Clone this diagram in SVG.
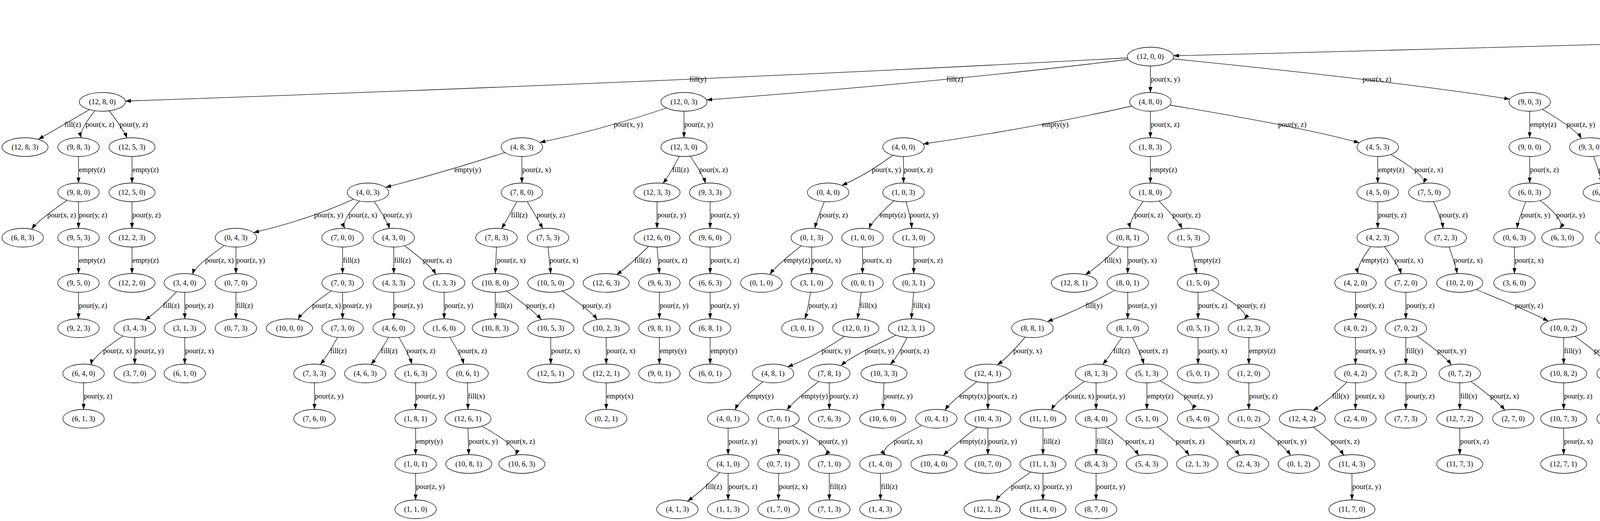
<svg xmlns="http://www.w3.org/2000/svg" width="7758" height="1335" viewBox="0 0 7758 1335">
<defs>
<marker id="arr" markerUnits="userSpaceOnUse" markerWidth="14" markerHeight="10" viewBox="0 -5 14 10" refX="14" refY="0" orient="auto"><path d="M0,-5L14,0L0,5z" fill="#000"/></marker>
</defs>
<style>
.n ellipse{fill:#fff;stroke:#000;stroke-width:1.3}
text{font-family:"Liberation Serif","Times New Roman",serif;font-size:18.67px;fill:#000}
.n text{text-anchor:middle}
#edges path{fill:none;stroke:#000;stroke-width:1.3;marker-end:url(#arr)}
</style>
<rect width="7758" height="1335" fill="#fff"/>
<g id="edges">
<path d="M6607,29 Q5192,88 3004,143"/><path d="M6607,53 L6607,121"/><path d="M6607,29 Q7148,91 7382,137"/>
<path d="M2945,145 Q1895,204 321,259"/><path d="M2945,145 Q2467,206 1809,256"/><path d="M2945,169 L2945,237"/><path d="M2945,145 Q3569,207 3865,254"/><path d="M6607,145 Q6164,205 5550,256"/><path d="M6607,169 L6607,237"/><path d="M6607,145 Q6982,209 7118,250"/><path d="M7432,169 L7432,237"/><path d="M7432,145 Q7572,214 7572,239"/>
<path d="M262,261 Q148,329 98,357"/><path d="M262,261 Q201,331 208,353"/><path d="M262,261 Q317,331 325,354"/><path d="M1751,261 Q1574,325 1382,365"/><path d="M1751,285 L1751,353"/><path d="M2945,261 Q2678,323 2363,369"/><path d="M2945,285 L2945,353"/><path d="M2945,261 Q3330,324 3480,366"/><path d="M3916,285 L3916,353"/><path d="M3916,261 Q4036,330 4048,355"/><path d="M5498,261 Q5330,325 5171,364"/><path d="M5498,285 L5498,353"/><path d="M6607,261 Q6514,328 6453,358"/><path d="M6607,261 Q6747,329 6776,357"/><path d="M7165,285 L7165,353"/><path d="M7165,261 Q7288,330 7279,354"/><path d="M7432,285 L7432,353"/><path d="M7593,261 Q7650,331 7659,354"/>
<path d="M201,401 L201,469"/><path d="M338,401 L338,469"/><path d="M1336,377 Q1139,441 987,480"/><path d="M1336,401 L1336,469"/><path d="M1751,377 Q1716,447 1697,470"/><path d="M1751,377 Q1800,447 1806,470"/><path d="M2313,377 Q2228,444 2155,475"/><path d="M2313,401 L2313,469"/><path d="M2945,401 L2945,469"/><path d="M3527,401 L3527,469"/><path d="M3527,377 Q3655,447 3644,470"/><path d="M3916,401 L3916,469"/><path d="M4071,377 Q4097,447 4100,469"/><path d="M5126,377 Q4931,441 4732,482"/><path d="M5126,377 Q5051,447 5064,469"/><path d="M5126,377 Q5176,447 5178,469"/><path d="M5498,377 Q5469,447 5457,470"/><path d="M5498,377 Q5556,447 5563,470"/><path d="M6420,377 Q6275,446 6262,472"/><path d="M6420,377 Q6393,447 6383,469"/><path d="M6420,377 Q6499,447 6491,469"/><path d="M6806,401 L6806,469"/><path d="M6806,377 Q6936,445 6963,473"/><path d="M7165,401 L7165,469"/><path d="M7294,401 L7294,469"/><path d="M7432,401 L7424,469"/><path d="M7432,377 Q7563,447 7542,470"/><path d="M7673,401 L7682,469"/>
<path d="M201,493 Q99,562 81,587"/><path d="M201,517 L201,585"/><path d="M338,517 L338,585"/><path d="M942,493 Q811,558 649,596"/><path d="M942,493 Q870,563 883,585"/><path d="M942,493 Q991,563 997,586"/><path d="M1336,493 Q1298,563 1284,586"/><path d="M1336,493 Q1377,563 1390,586"/><path d="M1682,517 L1682,585"/><path d="M1818,517 L1818,585"/><path d="M2120,493 Q2091,563 2086,585"/><path d="M2313,493 Q2233,562 2225,586"/><path d="M2313,493 Q2333,563 2334,585"/><path d="M2945,493 Q2887,563 2894,585"/><path d="M2945,493 Q3015,562 3026,586"/><path d="M3527,517 L3527,585"/><path d="M3659,493 Q3692,563 3694,585"/><path d="M3916,493 Q3886,563 3884,585"/><path d="M3916,493 Q4012,563 3993,585"/><path d="M4106,493 Q4128,563 4131,585"/><path d="M4685,493 Q4593,561 4541,589"/><path d="M4685,517 L4685,585"/><path d="M5057,517 L5057,585"/><path d="M5188,517 L5188,585"/><path d="M5188,493 Q5283,562 5286,586"/><path d="M5447,517 L5447,585"/><path d="M5577,517 L5577,585"/><path d="M6236,493 Q6147,562 6119,588"/><path d="M6236,517 L6236,585"/><path d="M6374,517 L6374,585"/><path d="M6500,517 L6500,585"/><path d="M6500,493 Q6631,562 6623,586"/><path d="M6806,517 L6806,585"/><path d="M6991,517 L6991,585"/><path d="M7165,517 L7165,585"/><path d="M7165,493 Q7288,562 7279,586"/><path d="M7294,493 Q7384,562 7402,587"/><path d="M7553,517 L7553,585"/>
<path d="M201,633 L201,701"/><path d="M338,633 L338,701"/><path d="M604,609 Q500,678 493,703"/><path d="M604,633 L604,701"/><path d="M877,633 L877,701"/><path d="M1008,633 L1008,701"/><path d="M1008,609 Q1102,678 1116,703"/><path d="M1271,633 L1268,701"/><path d="M1403,633 L1410,701"/><path d="M1682,609 Q1616,678 1578,704"/><path d="M1682,633 L1688,701"/><path d="M1818,633 L1818,701"/><path d="M2078,609 Q1988,678 1971,703"/><path d="M2078,633 L2078,701"/><path d="M2208,633 L2208,701"/><path d="M2339,633 L2339,701"/><path d="M2887,609 Q2820,678 2778,704"/><path d="M2887,633 L2887,701"/><path d="M3043,609 Q3059,679 3063,701"/><path d="M3527,609 Q3470,679 3477,701"/><path d="M3527,609 Q3581,679 3587,702"/><path d="M3701,609 Q3727,679 3730,701"/><path d="M3877,633 L3877,701"/><path d="M4137,609 Q4150,679 4151,701"/><path d="M4508,609 Q4493,679 4482,701"/><path d="M4685,609 Q4650,679 4631,702"/><path d="M4685,609 Q4741,679 4746,702"/><path d="M5057,609 Q4953,678 4934,704"/><path d="M5057,633 L5057,701"/><path d="M5188,633 L5188,701"/><path d="M5303,633 L5303,701"/><path d="M5447,633 L5447,701"/><path d="M5577,633 L5577,701"/><path d="M6094,609 Q5876,677 5859,706"/><path d="M6094,609 Q6000,678 5994,703"/><path d="M6094,609 Q6107,679 6109,701"/><path d="M6374,609 Q6279,678 6264,703"/><path d="M6374,633 L6374,701"/><path d="M6500,633 L6500,701"/><path d="M6641,633 L6641,701"/><path d="M6806,609 Q6794,679 6786,701"/><path d="M6806,609 Q6909,679 6897,702"/><path d="M6991,609 Q7027,679 7031,701"/><path d="M7165,633 L7165,701"/><path d="M7294,633 L7294,701"/><path d="M7424,633 L7424,701"/>
<path d="M201,749 L201,817"/><path d="M473,725 Q410,794 371,820"/><path d="M473,749 L473,817"/><path d="M604,749 L604,817"/><path d="M877,725 Q776,794 763,819"/><path d="M877,749 L877,817"/><path d="M1008,749 L1008,817"/><path d="M1137,749 L1137,817"/><path d="M1268,749 L1268,817"/><path d="M1268,725 Q1365,794 1386,819"/><path d="M1410,725 Q1511,794 1529,819"/><path d="M1688,749 L1688,817"/><path d="M1818,749 L1818,817"/><path d="M2078,725 Q2069,795 2060,817"/><path d="M2208,725 Q2199,795 2195,817"/><path d="M2339,749 L2333,817"/><path d="M2887,725 Q2772,791 2681,824"/><path d="M2887,749 L2887,817"/><path d="M3067,749 L3067,817"/><path d="M3067,725 Q3206,795 3185,818"/><path d="M3470,749 L3470,817"/><path d="M3599,749 L3599,817"/><path d="M3737,725 Q3904,792 3964,823"/><path d="M4154,725 Q4167,795 4168,817"/><path d="M4474,725 Q4407,794 4368,820"/><path d="M4474,749 L4478,817"/><path d="M4616,749 L4616,817"/><path d="M4758,749 L4758,817"/><path d="M4911,749 L4909,817"/><path d="M5057,749 L5057,817"/><path d="M5188,749 L5188,817"/><path d="M5188,725 Q5279,794 5295,819"/><path d="M5303,725 Q5416,794 5425,819"/><path d="M5577,749 L5577,817"/><path d="M5827,725 Q5760,794 5730,819"/><path d="M5827,725 Q5849,795 5843,817"/><path d="M5975,749 L5968,817"/><path d="M6112,749 L6110,817"/><path d="M6243,749 L6240,817"/><path d="M6374,749 L6369,817"/><path d="M6500,749 L6496,817"/><path d="M6500,725 Q6625,794 6615,818"/><path d="M6641,725 Q6736,794 6751,819"/><path d="M6909,749 L6909,817"/><path d="M7039,749 L7039,817"/><path d="M7165,749 L7165,817"/><path d="M7294,749 L7294,817"/><path d="M7424,749 L7424,817"/>
<path d="M345,841 Q237,910 233,935"/><path d="M345,865 L345,933"/><path d="M473,865 L473,933"/><path d="M877,841 Q840,910 820,934"/><path d="M1008,841 Q969,910 950,934"/><path d="M1008,841 Q1049,911 1054,933"/><path d="M1137,841 Q1182,911 1187,933"/><path d="M1410,865 L1410,933"/><path d="M1552,865 L1552,933"/><path d="M1688,865 L1688,933"/><path d="M1818,865 L1818,933"/><path d="M2191,841 Q2101,908 2016,940"/><path d="M2333,841 Q2183,909 2153,937"/><path d="M2333,841 Q2302,910 2279,934"/><path d="M2643,841 Q2588,910 2553,935"/><path d="M2887,841 Q2843,910 2823,934"/><path d="M2887,841 Q2923,911 2928,933"/><path d="M3067,865 L3067,933"/><path d="M3197,865 L3197,933"/><path d="M3470,865 L3470,933"/><path d="M3599,865 L3599,933"/><path d="M3599,841 Q3699,910 3715,935"/><path d="M4003,865 L4003,933"/><path d="M4003,841 Q4100,910 4118,935"/><path d="M4171,841 Q4279,910 4296,935"/><path d="M4478,865 L4478,933"/><path d="M4758,841 Q4719,910 4692,935"/><path d="M4909,865 L4909,933"/><path d="M5057,841 Q5051,911 5046,933"/><path d="M5057,841 Q5189,911 5165,934"/><path d="M5316,865 L5316,933"/><path d="M5447,865 L5447,933"/><path d="M5577,865 L5577,933"/><path d="M5707,865 L5707,933"/><path d="M5844,865 L5844,933"/><path d="M5968,865 L5981,933"/><path d="M6110,865 L6110,933"/><path d="M6240,865 L6240,933"/><path d="M6496,865 L6496,933"/><path d="M6630,865 L6630,933"/><path d="M6772,865 L6772,933"/><path d="M7039,865 L7039,933"/><path d="M7294,865 L7294,933"/>
<path d="M214,981 L214,1049"/><path d="M805,981 L805,1049"/><path d="M1064,981 L1064,1049"/><path d="M1197,981 L1198,1049"/><path d="M1552,981 L1552,1049"/><path d="M1979,957 Q1892,1026 1882,1050"/><path d="M2123,957 Q2031,1026 2015,1051"/><path d="M2123,981 L2123,1049"/><path d="M2263,981 L2260,1049"/><path d="M2529,957 Q2436,1026 2419,1051"/><path d="M2529,981 L2529,1049"/><path d="M2806,957 Q2703,1026 2692,1051"/><path d="M2806,981 L2806,1049"/><path d="M2936,981 L2936,1049"/><path d="M2936,957 Q3066,1026 3052,1050"/><path d="M3197,981 L3197,1049"/><path d="M3470,957 Q3403,1026 3361,1052"/><path d="M3470,981 L3470,1049"/><path d="M3599,981 L3599,1049"/><path d="M3737,981 L3737,1049"/><path d="M3737,957 Q3834,1026 3852,1051"/><path d="M4003,981 L4003,1049"/><path d="M4141,981 L4141,1049"/><path d="M4141,957 Q4266,1026 4255,1050"/><path d="M4319,957 Q4381,1026 4392,1050"/><path d="M4673,957 Q4564,1026 4563,1050"/><path d="M4673,981 L4673,1049"/><path d="M4909,981 L4909,1049"/><path d="M4909,957 Q5033,1026 5025,1050"/><path d="M5176,981 L5176,1049"/><path d="M5316,981 L5314,1049"/><path d="M5447,981 L5451,1049"/><path d="M5447,957 Q5581,1026 5571,1050"/><path d="M5577,957 Q5682,1026 5700,1052"/><path d="M6110,981 L6110,1049"/><path d="M6496,981 L6496,1049"/><path d="M6630,981 L6630,1049"/><path d="M6772,981 L6772,1049"/>
<path d="M1064,1097 L1064,1165"/><path d="M1198,1097 L1200,1165"/><path d="M1198,1073 Q1331,1142 1320,1166"/><path d="M1864,1097 L1864,1165"/><path d="M1993,1097 L1993,1165"/><path d="M1993,1073 Q2138,1143 2112,1166"/><path d="M2397,1073 Q2242,1143 2267,1166"/><path d="M2529,1073 Q2440,1142 2415,1167"/><path d="M2529,1097 L2529,1165"/><path d="M2670,1097 L2670,1165"/><path d="M2806,1097 L2806,1165"/><path d="M2806,1073 Q2900,1142 2915,1167"/><path d="M2936,1073 Q3028,1142 3044,1167"/><path d="M3067,1073 Q3156,1142 3173,1167"/><path d="M3197,1073 Q3288,1142 3304,1167"/><path d="M3334,1073 Q3425,1142 3440,1167"/><path d="M3737,1097 L3737,1165"/><path d="M4003,1097 L4003,1165"/><path d="M4270,1097 L4270,1165"/><path d="M4545,1097 L4535,1165"/><path d="M4673,1097 L4665,1165"/><path d="M4909,1073 Q4810,1142 4811,1166"/><path d="M4909,1073 Q4919,1143 4922,1165"/><path d="M5041,1097 L5052,1165"/><path d="M5314,1073 Q5218,1142 5207,1167"/><path d="M5314,1097 L5314,1165"/><path d="M5451,1097 L5451,1165"/><path d="M5587,1097 L5587,1165"/><path d="M6496,1097 L6496,1165"/>
<path d="M1064,1213 L1064,1281"/><path d="M1864,1189 Q1798,1258 1760,1284"/><path d="M1864,1213 L1864,1281"/><path d="M1993,1213 L1993,1281"/><path d="M2123,1213 L2123,1281"/><path d="M2254,1213 L2254,1281"/><path d="M2670,1189 Q2564,1258 2550,1283"/><path d="M2670,1213 L2670,1281"/><path d="M2806,1213 L2806,1281"/><path d="M3461,1213 L3461,1281"/><path d="M4270,1213 L4270,1281"/><path d="M4925,1189 Q4862,1259 4867,1281"/><path d="M4925,1189 Q4975,1259 4978,1281"/>
</g>
<g id="edge-labels">
<text x="5000" y="93">fill(x)</text><text x="6608" y="93">fill(y)</text><text x="7070" y="93">fill(z)</text>
<text x="1765" y="209">fill(y)</text><text x="2423" y="209">fill(z)</text><text x="2946" y="209">pour(x, y)</text><text x="3488" y="209">pour(x, z)</text><text x="6122" y="209">fill(z)</text><text x="6608" y="209">pour(y, x)</text><text x="6923" y="209">pour(y, z)</text><text x="7433" y="209">pour(z, x)</text><text x="7538" y="209">pour(z, y)</text>
<text x="165" y="325">fill(z)</text><text x="219" y="325">pour(x, z)</text><text x="306" y="325">pour(y, z)</text><text x="1571" y="325">pour(x, y)</text><text x="1752" y="325">pour(z, y)</text><text x="2667" y="325">empty(y)</text><text x="2946" y="325">pour(x, z)</text><text x="3272" y="325">pour(y, z)</text><text x="3917" y="325">empty(z)</text><text x="4010" y="325">pour(z, y)</text><text x="5333" y="325">pour(y, x)</text><text x="5499" y="325">pour(z, x)</text><text x="6523" y="325">fill(y)</text><text x="6720" y="325">pour(x, z)</text><text x="7166" y="325">empty(z)</text><text x="7256" y="325">pour(z, x)</text><text x="7433" y="325">fill(z)</text><text x="7639" y="325">fill(z)</text>
<text x="202" y="441">empty(z)</text><text x="339" y="441">empty(z)</text><text x="1163" y="441">empty(y)</text><text x="1337" y="441">pour(z, x)</text><text x="1721" y="441">fill(z)</text><text x="1790" y="441">pour(x, z)</text><text x="2232" y="441">pour(x, y)</text><text x="2314" y="441">pour(x, z)</text><text x="2946" y="441">empty(z)</text><text x="3528" y="441">empty(z)</text><text x="3621" y="441">pour(z, x)</text><text x="3917" y="441">pour(x, z)</text><text x="4092" y="441">pour(x, z)</text><text x="4931" y="441">fill(y)</text><text x="5074" y="441">pour(z, x)</text><text x="5165" y="441">pour(z, y)</text><text x="5474" y="441">fill(z)</text><text x="5544" y="441">pour(y, z)</text><text x="6309" y="441">pour(x, z)</text><text x="6398" y="441">pour(y, x)</text><text x="6478" y="441">pour(y, z)</text><text x="6807" y="441">empty(z)</text><text x="6911" y="441">pour(z, y)</text><text x="7166" y="441">pour(y, z)</text><text x="7295" y="441">pour(y, z)</text><text x="7429" y="441">pour(z, x)</text><text x="7526" y="441">pour(z, y)</text><text x="7678" y="441">pour(z, y)</text>
<text x="121" y="557">pour(x, z)</text><text x="202" y="557">pour(y, z)</text><text x="339" y="557">pour(y, z)</text><text x="804" y="557">pour(x, y)</text><text x="892" y="557">pour(z, x)</text><text x="981" y="557">pour(z, y)</text><text x="1308" y="557">fill(z)</text><text x="1374" y="557">pour(y, z)</text><text x="1683" y="557">pour(z, y)</text><text x="1819" y="557">pour(z, y)</text><text x="2098" y="557">pour(y, z)</text><text x="2252" y="557">empty(z)</text><text x="2329" y="557">pour(z, y)</text><text x="2904" y="557">pour(x, z)</text><text x="3001" y="557">pour(y, z)</text><text x="3528" y="557">pour(y, z)</text><text x="3685" y="557">pour(y, z)</text><text x="3894" y="557">pour(x, y)</text><text x="3984" y="557">pour(z, y)</text><text x="4124" y="557">pour(z, y)</text><text x="4604" y="557">pour(y, x)</text><text x="4686" y="557">pour(z, x)</text><text x="5058" y="557">fill(z)</text><text x="5189" y="557">fill(z)</text><text x="5261" y="557">pour(x, z)</text><text x="5448" y="557">pour(z, x)</text><text x="5578" y="557">pour(z, x)</text><text x="6163" y="557">empty(z)</text><text x="6237" y="557">pour(y, x)</text><text x="6375" y="557">pour(x, z)</text><text x="6501" y="557">empty(z)</text><text x="6597" y="557">pour(z, x)</text><text x="6807" y="557">pour(x, z)</text><text x="6992" y="557">pour(x, z)</text><text x="7166" y="557">empty(z)</text><text x="7256" y="557">pour(z, x)</text><text x="7367" y="557">pour(z, x)</text><text x="7554" y="557">fill(z)</text>
<text x="202" y="673">empty(z)</text><text x="339" y="673">empty(z)</text><text x="525" y="673">pour(z, x)</text><text x="605" y="673">pour(z, y)</text><text x="878" y="673">fill(z)</text><text x="1009" y="673">fill(z)</text><text x="1083" y="673">pour(x, z)</text><text x="1272" y="673">pour(z, x)</text><text x="1407" y="673">pour(z, x)</text><text x="1624" y="673">fill(z)</text><text x="1686" y="673">pour(x, z)</text><text x="1819" y="673">pour(x, z)</text><text x="2007" y="673">empty(z)</text><text x="2079" y="673">pour(z, x)</text><text x="2209" y="673">pour(x, z)</text><text x="2340" y="673">pour(x, z)</text><text x="2827" y="673">fill(x)</text><text x="2888" y="673">pour(y, x)</text><text x="3057" y="673">empty(z)</text><text x="3487" y="673">empty(z)</text><text x="3570" y="673">pour(z, x)</text><text x="3722" y="673">pour(z, x)</text><text x="3878" y="673">pour(z, x)</text><text x="4148" y="673">pour(x, z)</text><text x="4495" y="673">pour(z, y)</text><text x="4655" y="673">fill(z)</text><text x="4729" y="673">pour(y, z)</text><text x="4975" y="673">pour(z, x)</text><text x="5058" y="673">pour(z, y)</text><text x="5189" y="673">pour(z, y)</text><text x="5304" y="673">pour(z, y)</text><text x="5448" y="673">pour(y, z)</text><text x="5578" y="673">pour(y, z)</text><text x="5927" y="673">pour(x, z)</text><text x="6023" y="673">pour(y, x)</text><text x="6105" y="673">pour(y, z)</text><text x="6300" y="673">empty(z)</text><text x="6375" y="673">pour(z, y)</text><text x="6501" y="673">pour(y, z)</text><text x="6642" y="673">pour(y, z)</text><text x="6796" y="673">empty(z)</text><text x="6881" y="673">pour(z, y)</text><text x="7020" y="673">pour(z, y)</text><text x="7166" y="673">pour(y, z)</text><text x="7295" y="673">pour(y, z)</text><text x="7425" y="673">pour(y, z)</text>
<text x="202" y="789">pour(y, z)</text><text x="417" y="789">fill(z)</text><text x="474" y="789">pour(y, z)</text><text x="605" y="789">fill(z)</text><text x="799" y="789">pour(z, x)</text><text x="878" y="789">pour(z, y)</text><text x="1009" y="789">pour(z, y)</text><text x="1138" y="789">pour(z, y)</text><text x="1269" y="789">fill(z)</text><text x="1347" y="789">pour(y, z)</text><text x="1491" y="789">pour(y, z)</text><text x="1689" y="789">pour(z, y)</text><text x="1819" y="789">pour(z, y)</text><text x="2070" y="789">pour(y, z)</text><text x="2201" y="789">fill(x)</text><text x="2337" y="789">fill(x)</text><text x="2779" y="789">fill(y)</text><text x="2888" y="789">pour(z, y)</text><text x="3068" y="789">pour(x, z)</text><text x="3167" y="789">pour(y, z)</text><text x="3471" y="789">pour(y, z)</text><text x="3600" y="789">pour(y, z)</text><text x="3878" y="789">pour(y, z)</text><text x="4165" y="789">pour(z, y)</text><text x="4415" y="789">fill(z)</text><text x="4477" y="789">pour(x, z)</text><text x="4617" y="789">pour(z, x)</text><text x="4759" y="789">pour(z, x)</text><text x="4911" y="789">pour(x, y)</text><text x="5058" y="789">fill(z)</text><text x="5189" y="789">fill(z)</text><text x="5261" y="789">pour(x, z)</text><text x="5391" y="789">pour(x, z)</text><text x="5578" y="789">pour(z, x)</text><text x="5770" y="789">empty(z)</text><text x="5843" y="789">pour(y, x)</text><text x="5973" y="789">pour(x, z)</text><text x="6112" y="789">empty(z)</text><text x="6243" y="789">pour(x, z)</text><text x="6373" y="789">pour(x, z)</text><text x="6499" y="789">empty(z)</text><text x="6592" y="789">pour(z, x)</text><text x="6717" y="789">pour(z, x)</text><text x="6910" y="789">pour(x, z)</text><text x="7040" y="789">pour(x, z)</text><text x="7166" y="789">fill(y)</text><text x="7295" y="789">fill(y)</text><text x="7425" y="789">fill(y)</text>
<text x="264" y="905">pour(z, x)</text><text x="346" y="905">pour(z, y)</text><text x="474" y="905">pour(z, x)</text><text x="845" y="905">fill(z)</text><text x="975" y="905">fill(z)</text><text x="1041" y="905">pour(x, z)</text><text x="1173" y="905">pour(x, z)</text><text x="1411" y="905">pour(z, x)</text><text x="1553" y="905">pour(z, x)</text><text x="1689" y="905">empty(y)</text><text x="1819" y="905">empty(y)</text><text x="2103" y="905">pour(x, y)</text><text x="2214" y="905">pour(x, y)</text><text x="2305" y="905">pour(x, z)</text><text x="2594" y="905">pour(y, x)</text><text x="2850" y="905">fill(z)</text><text x="2916" y="905">pour(x, z)</text><text x="3068" y="905">pour(y, x)</text><text x="3198" y="905">empty(z)</text><text x="3471" y="905">pour(x, y)</text><text x="3600" y="905">fill(y)</text><text x="3679" y="905">pour(x, y)</text><text x="4004" y="905">fill(y)</text><text x="4081" y="905">pour(x, y)</text><text x="4257" y="905">pour(y, x)</text><text x="4479" y="905">pour(z, y)</text><text x="4723" y="905">empty(x)</text><text x="4910" y="905">pour(y, z)</text><text x="5052" y="905">pour(z, x)</text><text x="5151" y="905">pour(z, y)</text><text x="5317" y="905">pour(z, y)</text><text x="5448" y="905">pour(z, y)</text><text x="5578" y="905">pour(y, z)</text><text x="5708" y="905">pour(y, z)</text><text x="5845" y="905">pour(z, y)</text><text x="5976" y="905">empty(z)</text><text x="6111" y="905">pour(y, z)</text><text x="6241" y="905">pour(z, y)</text><text x="6497" y="905">pour(y, z)</text><text x="6631" y="905">pour(y, z)</text><text x="6773" y="905">empty(x)</text><text x="7040" y="905">fill(x)</text><text x="7295" y="905">pour(y, z)</text>
<text x="215" y="1021">pour(y, z)</text><text x="806" y="1021">pour(z, y)</text><text x="1065" y="1021">pour(z, y)</text><text x="1198" y="1021">fill(x)</text><text x="1553" y="1021">empty(x)</text><text x="1912" y="1021">empty(y)</text><text x="2051" y="1021">empty(y)</text><text x="2124" y="1021">pour(y, z)</text><text x="2263" y="1021">pour(z, y)</text><text x="2456" y="1021">empty(x)</text><text x="2530" y="1021">pour(x, z)</text><text x="2727" y="1021">pour(z, x)</text><text x="2807" y="1021">pour(z, y)</text><text x="2937" y="1021">empty(z)</text><text x="3031" y="1021">pour(z, y)</text><text x="3198" y="1021">pour(y, z)</text><text x="3410" y="1021">fill(x)</text><text x="3471" y="1021">pour(z, x)</text><text x="3600" y="1021">pour(y, z)</text><text x="3738" y="1021">fill(x)</text><text x="3815" y="1021">pour(z, x)</text><text x="4004" y="1021">pour(y, z)</text><text x="4142" y="1021">empty(y)</text><text x="4233" y="1021">pour(y, z)</text><text x="4369" y="1021">fill(y)</text><text x="4592" y="1021">pour(y, x)</text><text x="4674" y="1021">pour(z, x)</text><text x="4910" y="1021">empty(z)</text><text x="5001" y="1021">pour(z, x)</text><text x="5177" y="1021">fill(z)</text><text x="5316" y="1021">pour(y, x)</text><text x="5449" y="1021">empty(y)</text><text x="5546" y="1021">pour(y, x)</text><text x="5661" y="1021">pour(x, y)</text><text x="6111" y="1021">empty(z)</text><text x="6497" y="1021">fill(y)</text><text x="6631" y="1021">fill(y)</text><text x="6773" y="1021">pour(z, x)</text>
<text x="1065" y="1137">empty(y)</text><text x="1200" y="1137">pour(x, y)</text><text x="1296" y="1137">pour(x, z)</text><text x="1865" y="1137">pour(z, y)</text><text x="1994" y="1137">pour(x, y)</text><text x="2096" y="1137">pour(z, y)</text><text x="2288" y="1137">pour(z, x)</text><text x="2457" y="1137">empty(z)</text><text x="2530" y="1137">pour(z, y)</text><text x="2671" y="1137">fill(z)</text><text x="2807" y="1137">fill(z)</text><text x="2881" y="1137">pour(x, z)</text><text x="3010" y="1137">pour(x, z)</text><text x="3139" y="1137">pour(x, z)</text><text x="3270" y="1137">pour(x, y)</text><text x="3407" y="1137">pour(x, z)</text><text x="3738" y="1137">pour(x, z)</text><text x="4004" y="1137">pour(z, x)</text><text x="4271" y="1137">pour(z, x)</text><text x="4537" y="1137">fill(y)</text><text x="4670" y="1137">pour(y, z)</text><text x="4836" y="1137">pour(x, z)</text><text x="4918" y="1137">pour(y, z)</text><text x="5049" y="1137">pour(y, z)</text><text x="5240" y="1137">empty(x)</text><text x="5315" y="1137">pour(x, z)</text><text x="5452" y="1137">pour(z, y)</text><text x="5588" y="1137">pour(z, y)</text><text x="6497" y="1137">pour(y, z)</text>
<text x="1065" y="1253">pour(z, y)</text><text x="1806" y="1253">fill(z)</text><text x="1865" y="1253">pour(x, z)</text><text x="1994" y="1253">pour(z, x)</text><text x="2124" y="1253">fill(z)</text><text x="2255" y="1253">fill(z)</text><text x="2588" y="1253">pour(z, x)</text><text x="2671" y="1253">pour(z, y)</text><text x="2807" y="1253">pour(z, y)</text><text x="3462" y="1253">pour(z, y)</text><text x="4271" y="1253">fill(z)</text><text x="4880" y="1253">empty(z)</text><text x="4964" y="1253">pour(z, x)</text>
</g>
<g id="nodes">
<g class="n" id="s-0-0-0"><ellipse cx="6607" cy="29" rx="53" ry="24"/><text x="6607" y="35">(0, 0, 0)</text></g>
<g class="n" id="s-12-0-0"><ellipse cx="2945" cy="145" rx="59" ry="24"/><text x="2945" y="151">(12, 0, 0)</text></g>
<g class="n" id="s-0-8-0"><ellipse cx="6607" cy="145" rx="53" ry="24"/><text x="6607" y="151">(0, 8, 0)</text></g>
<g class="n" id="s-0-0-3"><ellipse cx="7432" cy="145" rx="53" ry="24"/><text x="7432" y="151">(0, 0, 3)</text></g>
<g class="n" id="s-12-8-0"><ellipse cx="262" cy="261" rx="59" ry="24"/><text x="262" y="267">(12, 8, 0)</text></g>
<g class="n" id="s-12-0-3"><ellipse cx="1751" cy="261" rx="59" ry="24"/><text x="1751" y="267">(12, 0, 3)</text></g>
<g class="n" id="s-4-8-0"><ellipse cx="2945" cy="261" rx="53" ry="24"/><text x="2945" y="267">(4, 8, 0)</text></g>
<g class="n" id="s-9-0-3"><ellipse cx="3916" cy="261" rx="53" ry="24"/><text x="3916" y="267">(9, 0, 3)</text></g>
<g class="n" id="s-0-8-3"><ellipse cx="5498" cy="261" rx="53" ry="24"/><text x="5498" y="267">(0, 8, 3)</text></g>
<g class="n" id="s-8-0-0"><ellipse cx="6607" cy="261" rx="53" ry="24"/><text x="6607" y="267">(8, 0, 0)</text></g>
<g class="n" id="s-0-5-3"><ellipse cx="7165" cy="261" rx="53" ry="24"/><text x="7165" y="267">(0, 5, 3)</text></g>
<g class="n" id="s-3-0-0"><ellipse cx="7432" cy="261" rx="53" ry="24"/><text x="7432" y="267">(3, 0, 0)</text></g>
<g class="n" id="s-0-3-0"><ellipse cx="7593" cy="261" rx="53" ry="24"/><text x="7593" y="267">(0, 3, 0)</text></g>
<g class="n" id="s-12-8-3"><ellipse cx="64" cy="377" rx="59" ry="24"/><text x="64" y="383">(12, 8, 3)</text></g>
<g class="n" id="s-9-8-3"><ellipse cx="201" cy="377" rx="53" ry="24"/><text x="201" y="383">(9, 8, 3)</text></g>
<g class="n" id="s-12-5-3"><ellipse cx="338" cy="377" rx="59" ry="24"/><text x="338" y="383">(12, 5, 3)</text></g>
<g class="n" id="s-4-8-3"><ellipse cx="1336" cy="377" rx="53" ry="24"/><text x="1336" y="383">(4, 8, 3)</text></g>
<g class="n" id="s-12-3-0"><ellipse cx="1751" cy="377" rx="59" ry="24"/><text x="1751" y="383">(12, 3, 0)</text></g>
<g class="n" id="s-4-0-0"><ellipse cx="2313" cy="377" rx="53" ry="24"/><text x="2313" y="383">(4, 0, 0)</text></g>
<g class="n" id="s-1-8-3"><ellipse cx="2945" cy="377" rx="53" ry="24"/><text x="2945" y="383">(1, 8, 3)</text></g>
<g class="n" id="s-4-5-3"><ellipse cx="3527" cy="377" rx="53" ry="24"/><text x="3527" y="383">(4, 5, 3)</text></g>
<g class="n" id="s-9-0-0"><ellipse cx="3916" cy="377" rx="53" ry="24"/><text x="3916" y="383">(9, 0, 0)</text></g>
<g class="n" id="s-9-3-0"><ellipse cx="4071" cy="377" rx="53" ry="24"/><text x="4071" y="383">(9, 3, 0)</text></g>
<g class="n" id="s-8-0-3"><ellipse cx="5126" cy="377" rx="53" ry="24"/><text x="5126" y="383">(8, 0, 3)</text></g>
<g class="n" id="s-3-8-0"><ellipse cx="5498" cy="377" rx="53" ry="24"/><text x="5498" y="383">(3, 8, 0)</text></g>
<g class="n" id="s-8-8-0"><ellipse cx="6420" cy="377" rx="53" ry="24"/><text x="6420" y="383">(8, 8, 0)</text></g>
<g class="n" id="s-5-0-3"><ellipse cx="6806" cy="377" rx="53" ry="24"/><text x="6806" y="383">(5, 0, 3)</text></g>
<g class="n" id="s-0-5-0"><ellipse cx="7165" cy="377" rx="53" ry="24"/><text x="7165" y="383">(0, 5, 0)</text></g>
<g class="n" id="s-3-5-0"><ellipse cx="7294" cy="377" rx="53" ry="24"/><text x="7294" y="383">(3, 5, 0)</text></g>
<g class="n" id="s-3-0-3"><ellipse cx="7432" cy="377" rx="53" ry="24"/><text x="7432" y="383">(3, 0, 3)</text></g>
<g class="n" id="s-0-3-3"><ellipse cx="7673" cy="377" rx="53" ry="24"/><text x="7673" y="383">(0, 3, 3)</text></g>
<g class="n" id="s-9-8-0"><ellipse cx="201" cy="493" rx="53" ry="24"/><text x="201" y="499">(9, 8, 0)</text></g>
<g class="n" id="s-12-5-0"><ellipse cx="338" cy="493" rx="59" ry="24"/><text x="338" y="499">(12, 5, 0)</text></g>
<g class="n" id="s-4-0-3"><ellipse cx="942" cy="493" rx="53" ry="24"/><text x="942" y="499">(4, 0, 3)</text></g>
<g class="n" id="s-7-8-0"><ellipse cx="1336" cy="493" rx="53" ry="24"/><text x="1336" y="499">(7, 8, 0)</text></g>
<g class="n" id="s-12-3-3"><ellipse cx="1682" cy="493" rx="59" ry="24"/><text x="1682" y="499">(12, 3, 3)</text></g>
<g class="n" id="s-9-3-3"><ellipse cx="1818" cy="493" rx="53" ry="24"/><text x="1818" y="499">(9, 3, 3)</text></g>
<g class="n" id="s-0-4-0"><ellipse cx="2120" cy="493" rx="53" ry="24"/><text x="2120" y="499">(0, 4, 0)</text></g>
<g class="n" id="s-1-0-3"><ellipse cx="2313" cy="493" rx="53" ry="24"/><text x="2313" y="499">(1, 0, 3)</text></g>
<g class="n" id="s-1-8-0"><ellipse cx="2945" cy="493" rx="53" ry="24"/><text x="2945" y="499">(1, 8, 0)</text></g>
<g class="n" id="s-4-5-0"><ellipse cx="3527" cy="493" rx="53" ry="24"/><text x="3527" y="499">(4, 5, 0)</text></g>
<g class="n" id="s-7-5-0"><ellipse cx="3659" cy="493" rx="53" ry="24"/><text x="3659" y="499">(7, 5, 0)</text></g>
<g class="n" id="s-6-0-3"><ellipse cx="3916" cy="493" rx="53" ry="24"/><text x="3916" y="499">(6, 0, 3)</text></g>
<g class="n" id="s-6-3-3"><ellipse cx="4106" cy="493" rx="53" ry="24"/><text x="4106" y="499">(6, 3, 3)</text></g>
<g class="n" id="s-8-8-3"><ellipse cx="4685" cy="493" rx="53" ry="24"/><text x="4685" y="499">(8, 8, 3)</text></g>
<g class="n" id="s-11-0-0"><ellipse cx="5057" cy="493" rx="59" ry="24"/><text x="5057" y="499">(11, 0, 0)</text></g>
<g class="n" id="s-8-3-0"><ellipse cx="5188" cy="493" rx="53" ry="24"/><text x="5188" y="499">(8, 3, 0)</text></g>
<g class="n" id="s-3-8-3"><ellipse cx="5447" cy="493" rx="53" ry="24"/><text x="5447" y="499">(3, 8, 3)</text></g>
<g class="n" id="s-3-5-3"><ellipse cx="5577" cy="493" rx="53" ry="24"/><text x="5577" y="499">(3, 5, 3)</text></g>
<g class="n" id="s-5-8-3"><ellipse cx="6236" cy="493" rx="53" ry="24"/><text x="6236" y="499">(5, 8, 3)</text></g>
<g class="n" id="s-12-4-0"><ellipse cx="6374" cy="493" rx="59" ry="24"/><text x="6374" y="499">(12, 4, 0)</text></g>
<g class="n" id="s-8-5-3"><ellipse cx="6500" cy="493" rx="53" ry="24"/><text x="6500" y="499">(8, 5, 3)</text></g>
<g class="n" id="s-5-0-0"><ellipse cx="6806" cy="493" rx="53" ry="24"/><text x="6806" y="499">(5, 0, 0)</text></g>
<g class="n" id="s-5-3-0"><ellipse cx="6991" cy="493" rx="53" ry="24"/><text x="6991" y="499">(5, 3, 0)</text></g>
<g class="n" id="s-0-2-3"><ellipse cx="7165" cy="493" rx="53" ry="24"/><text x="7165" y="499">(0, 2, 3)</text></g>
<g class="n" id="s-3-2-3"><ellipse cx="7294" cy="493" rx="53" ry="24"/><text x="7294" y="499">(3, 2, 3)</text></g>
<g class="n" id="s-6-0-0"><ellipse cx="7424" cy="493" rx="53" ry="24"/><text x="7424" y="499">(6, 0, 0)</text></g>
<g class="n" id="s-3-3-0"><ellipse cx="7553" cy="493" rx="53" ry="24"/><text x="7553" y="499">(3, 3, 0)</text></g>
<g class="n" id="s-0-6-0"><ellipse cx="7682" cy="493" rx="53" ry="24"/><text x="7682" y="499">(0, 6, 0)</text></g>
<g class="n" id="s-6-8-3"><ellipse cx="58" cy="609" rx="53" ry="24"/><text x="58" y="615">(6, 8, 3)</text></g>
<g class="n" id="s-9-5-3"><ellipse cx="201" cy="609" rx="53" ry="24"/><text x="201" y="615">(9, 5, 3)</text></g>
<g class="n" id="s-12-2-3"><ellipse cx="338" cy="609" rx="59" ry="24"/><text x="338" y="615">(12, 2, 3)</text></g>
<g class="n" id="s-0-4-3"><ellipse cx="604" cy="609" rx="53" ry="24"/><text x="604" y="615">(0, 4, 3)</text></g>
<g class="n" id="s-7-0-0"><ellipse cx="877" cy="609" rx="53" ry="24"/><text x="877" y="615">(7, 0, 0)</text></g>
<g class="n" id="s-4-3-0"><ellipse cx="1008" cy="609" rx="53" ry="24"/><text x="1008" y="615">(4, 3, 0)</text></g>
<g class="n" id="s-7-8-3"><ellipse cx="1271" cy="609" rx="53" ry="24"/><text x="1271" y="615">(7, 8, 3)</text></g>
<g class="n" id="s-7-5-3"><ellipse cx="1403" cy="609" rx="53" ry="24"/><text x="1403" y="615">(7, 5, 3)</text></g>
<g class="n" id="s-12-6-0"><ellipse cx="1682" cy="609" rx="59" ry="24"/><text x="1682" y="615">(12, 6, 0)</text></g>
<g class="n" id="s-9-6-0"><ellipse cx="1818" cy="609" rx="53" ry="24"/><text x="1818" y="615">(9, 6, 0)</text></g>
<g class="n" id="s-0-1-3"><ellipse cx="2078" cy="609" rx="53" ry="24"/><text x="2078" y="615">(0, 1, 3)</text></g>
<g class="n" id="s-1-0-0"><ellipse cx="2208" cy="609" rx="53" ry="24"/><text x="2208" y="615">(1, 0, 0)</text></g>
<g class="n" id="s-1-3-0"><ellipse cx="2339" cy="609" rx="53" ry="24"/><text x="2339" y="615">(1, 3, 0)</text></g>
<g class="n" id="s-0-8-1"><ellipse cx="2887" cy="609" rx="53" ry="24"/><text x="2887" y="615">(0, 8, 1)</text></g>
<g class="n" id="s-1-5-3"><ellipse cx="3043" cy="609" rx="53" ry="24"/><text x="3043" y="615">(1, 5, 3)</text></g>
<g class="n" id="s-4-2-3"><ellipse cx="3527" cy="609" rx="53" ry="24"/><text x="3527" y="615">(4, 2, 3)</text></g>
<g class="n" id="s-7-2-3"><ellipse cx="3701" cy="609" rx="53" ry="24"/><text x="3701" y="615">(7, 2, 3)</text></g>
<g class="n" id="s-0-6-3"><ellipse cx="3877" cy="609" rx="53" ry="24"/><text x="3877" y="615">(0, 6, 3)</text></g>
<g class="n" id="s-6-3-0"><ellipse cx="4000" cy="609" rx="53" ry="24"/><text x="4000" y="615">(6, 3, 0)</text></g>
<g class="n" id="s-6-6-0"><ellipse cx="4137" cy="609" rx="53" ry="24"/><text x="4137" y="615">(6, 6, 0)</text></g>
<g class="n" id="s-12-4-3"><ellipse cx="4508" cy="609" rx="59" ry="24"/><text x="4508" y="615">(12, 4, 3)</text></g>
<g class="n" id="s-11-8-0"><ellipse cx="4685" cy="609" rx="59" ry="24"/><text x="4685" y="615">(11, 8, 0)</text></g>
<g class="n" id="s-11-0-3"><ellipse cx="5057" cy="609" rx="59" ry="24"/><text x="5057" y="615">(11, 0, 3)</text></g>
<g class="n" id="s-8-3-3"><ellipse cx="5188" cy="609" rx="53" ry="24"/><text x="5188" y="615">(8, 3, 3)</text></g>
<g class="n" id="s-5-3-3"><ellipse cx="5303" cy="609" rx="53" ry="24"/><text x="5303" y="615">(5, 3, 3)</text></g>
<g class="n" id="s-6-8-0"><ellipse cx="5447" cy="609" rx="53" ry="24"/><text x="5447" y="615">(6, 8, 0)</text></g>
<g class="n" id="s-6-5-0"><ellipse cx="5577" cy="609" rx="53" ry="24"/><text x="5577" y="615">(6, 5, 0)</text></g>
<g class="n" id="s-5-8-0"><ellipse cx="6094" cy="609" rx="53" ry="24"/><text x="6094" y="615">(5, 8, 0)</text></g>
<g class="n" id="s-12-1-3"><ellipse cx="6236" cy="609" rx="59" ry="24"/><text x="6236" y="615">(12, 1, 3)</text></g>
<g class="n" id="s-9-4-3"><ellipse cx="6374" cy="609" rx="53" ry="24"/><text x="6374" y="615">(9, 4, 3)</text></g>
<g class="n" id="s-8-5-0"><ellipse cx="6500" cy="609" rx="53" ry="24"/><text x="6500" y="615">(8, 5, 0)</text></g>
<g class="n" id="s-11-5-0"><ellipse cx="6641" cy="609" rx="59" ry="24"/><text x="6641" y="615">(11, 5, 0)</text></g>
<g class="n" id="s-2-0-3"><ellipse cx="6806" cy="609" rx="53" ry="24"/><text x="6806" y="615">(2, 0, 3)</text></g>
<g class="n" id="s-2-3-3"><ellipse cx="6991" cy="609" rx="53" ry="24"/><text x="6991" y="615">(2, 3, 3)</text></g>
<g class="n" id="s-0-2-0"><ellipse cx="7165" cy="609" rx="53" ry="24"/><text x="7165" y="615">(0, 2, 0)</text></g>
<g class="n" id="s-3-2-0"><ellipse cx="7294" cy="609" rx="53" ry="24"/><text x="7294" y="615">(3, 2, 0)</text></g>
<g class="n" id="s-6-2-0"><ellipse cx="7424" cy="609" rx="53" ry="24"/><text x="7424" y="615">(6, 2, 0)</text></g>
<g class="n" id="s-3-3-3"><ellipse cx="7553" cy="609" rx="53" ry="24"/><text x="7553" y="615">(3, 3, 3)</text></g>
<g class="n" id="s-9-5-0"><ellipse cx="201" cy="725" rx="53" ry="24"/><text x="201" y="731">(9, 5, 0)</text></g>
<g class="n" id="s-12-2-0"><ellipse cx="338" cy="725" rx="59" ry="24"/><text x="338" y="731">(12, 2, 0)</text></g>
<g class="n" id="s-3-4-0"><ellipse cx="473" cy="725" rx="53" ry="24"/><text x="473" y="731">(3, 4, 0)</text></g>
<g class="n" id="s-0-7-0"><ellipse cx="604" cy="725" rx="53" ry="24"/><text x="604" y="731">(0, 7, 0)</text></g>
<g class="n" id="s-7-0-3"><ellipse cx="877" cy="725" rx="53" ry="24"/><text x="877" y="731">(7, 0, 3)</text></g>
<g class="n" id="s-4-3-3"><ellipse cx="1008" cy="725" rx="53" ry="24"/><text x="1008" y="731">(4, 3, 3)</text></g>
<g class="n" id="s-1-3-3"><ellipse cx="1137" cy="725" rx="53" ry="24"/><text x="1137" y="731">(1, 3, 3)</text></g>
<g class="n" id="s-10-8-0"><ellipse cx="1268" cy="725" rx="59" ry="24"/><text x="1268" y="731">(10, 8, 0)</text></g>
<g class="n" id="s-10-5-0"><ellipse cx="1410" cy="725" rx="59" ry="24"/><text x="1410" y="731">(10, 5, 0)</text></g>
<g class="n" id="s-12-6-3"><ellipse cx="1552" cy="725" rx="59" ry="24"/><text x="1552" y="731">(12, 6, 3)</text></g>
<g class="n" id="s-9-6-3"><ellipse cx="1688" cy="725" rx="53" ry="24"/><text x="1688" y="731">(9, 6, 3)</text></g>
<g class="n" id="s-6-6-3"><ellipse cx="1818" cy="725" rx="53" ry="24"/><text x="1818" y="731">(6, 6, 3)</text></g>
<g class="n" id="s-0-1-0"><ellipse cx="1949" cy="725" rx="53" ry="24"/><text x="1949" y="731">(0, 1, 0)</text></g>
<g class="n" id="s-3-1-0"><ellipse cx="2078" cy="725" rx="53" ry="24"/><text x="2078" y="731">(3, 1, 0)</text></g>
<g class="n" id="s-0-0-1"><ellipse cx="2208" cy="725" rx="53" ry="24"/><text x="2208" y="731">(0, 0, 1)</text></g>
<g class="n" id="s-0-3-1"><ellipse cx="2339" cy="725" rx="53" ry="24"/><text x="2339" y="731">(0, 3, 1)</text></g>
<g class="n" id="s-12-8-1"><ellipse cx="2750" cy="725" rx="59" ry="24"/><text x="2750" y="731">(12, 8, 1)</text></g>
<g class="n" id="s-8-0-1"><ellipse cx="2887" cy="725" rx="53" ry="24"/><text x="2887" y="731">(8, 0, 1)</text></g>
<g class="n" id="s-1-5-0"><ellipse cx="3067" cy="725" rx="53" ry="24"/><text x="3067" y="731">(1, 5, 0)</text></g>
<g class="n" id="s-4-2-0"><ellipse cx="3470" cy="725" rx="53" ry="24"/><text x="3470" y="731">(4, 2, 0)</text></g>
<g class="n" id="s-7-2-0"><ellipse cx="3599" cy="725" rx="53" ry="24"/><text x="3599" y="731">(7, 2, 0)</text></g>
<g class="n" id="s-10-2-0"><ellipse cx="3737" cy="725" rx="59" ry="24"/><text x="3737" y="731">(10, 2, 0)</text></g>
<g class="n" id="s-3-6-0"><ellipse cx="3877" cy="725" rx="53" ry="24"/><text x="3877" y="731">(3, 6, 0)</text></g>
<g class="n" id="s-3-6-3"><ellipse cx="4154" cy="725" rx="53" ry="24"/><text x="4154" y="731">(3, 6, 3)</text></g>
<g class="n" id="s-12-7-0"><ellipse cx="4474" cy="725" rx="59" ry="24"/><text x="4474" y="731">(12, 7, 0)</text></g>
<g class="n" id="s-11-8-3"><ellipse cx="4616" cy="725" rx="59" ry="24"/><text x="4616" y="731">(11, 8, 3)</text></g>
<g class="n" id="s-11-5-3"><ellipse cx="4758" cy="725" rx="59" ry="24"/><text x="4758" y="731">(11, 5, 3)</text></g>
<g class="n" id="s-12-0-2"><ellipse cx="4911" cy="725" rx="59" ry="24"/><text x="4911" y="731">(12, 0, 2)</text></g>
<g class="n" id="s-11-3-0"><ellipse cx="5057" cy="725" rx="59" ry="24"/><text x="5057" y="731">(11, 3, 0)</text></g>
<g class="n" id="s-8-6-0"><ellipse cx="5188" cy="725" rx="53" ry="24"/><text x="5188" y="731">(8, 6, 0)</text></g>
<g class="n" id="s-5-6-0"><ellipse cx="5303" cy="725" rx="53" ry="24"/><text x="5303" y="731">(5, 6, 0)</text></g>
<g class="n" id="s-6-5-3"><ellipse cx="5447" cy="725" rx="53" ry="24"/><text x="5447" y="731">(6, 5, 3)</text></g>
<g class="n" id="s-6-2-3"><ellipse cx="5577" cy="725" rx="53" ry="24"/><text x="5577" y="731">(6, 2, 3)</text></g>
<g class="n" id="s-2-8-3"><ellipse cx="5827" cy="725" rx="53" ry="24"/><text x="5827" y="731">(2, 8, 3)</text></g>
<g class="n" id="s-12-1-0"><ellipse cx="5975" cy="725" rx="59" ry="24"/><text x="5975" y="731">(12, 1, 0)</text></g>
<g class="n" id="s-5-5-3"><ellipse cx="6112" cy="725" rx="53" ry="24"/><text x="6112" y="731">(5, 5, 3)</text></g>
<g class="n" id="s-9-4-0"><ellipse cx="6243" cy="725" rx="53" ry="24"/><text x="6243" y="731">(9, 4, 0)</text></g>
<g class="n" id="s-9-7-0"><ellipse cx="6374" cy="725" rx="53" ry="24"/><text x="6374" y="731">(9, 7, 0)</text></g>
<g class="n" id="s-8-2-3"><ellipse cx="6500" cy="725" rx="53" ry="24"/><text x="6500" y="731">(8, 2, 3)</text></g>
<g class="n" id="s-11-2-3"><ellipse cx="6641" cy="725" rx="59" ry="24"/><text x="6641" y="731">(11, 2, 3)</text></g>
<g class="n" id="s-2-0-0"><ellipse cx="6779" cy="725" rx="53" ry="24"/><text x="6779" y="731">(2, 0, 0)</text></g>
<g class="n" id="s-2-3-0"><ellipse cx="6909" cy="725" rx="53" ry="24"/><text x="6909" y="731">(2, 3, 0)</text></g>
<g class="n" id="s-2-6-0"><ellipse cx="7039" cy="725" rx="53" ry="24"/><text x="7039" y="731">(2, 6, 0)</text></g>
<g class="n" id="s-0-0-2"><ellipse cx="7165" cy="725" rx="53" ry="24"/><text x="7165" y="731">(0, 0, 2)</text></g>
<g class="n" id="s-3-0-2"><ellipse cx="7294" cy="725" rx="53" ry="24"/><text x="7294" y="731">(3, 0, 2)</text></g>
<g class="n" id="s-6-0-2"><ellipse cx="7424" cy="725" rx="53" ry="24"/><text x="7424" y="731">(6, 0, 2)</text></g>
<g class="n" id="s-9-2-3"><ellipse cx="201" cy="841" rx="53" ry="24"/><text x="201" y="847">(9, 2, 3)</text></g>
<g class="n" id="s-3-4-3"><ellipse cx="345" cy="841" rx="53" ry="24"/><text x="345" y="847">(3, 4, 3)</text></g>
<g class="n" id="s-3-1-3"><ellipse cx="473" cy="841" rx="53" ry="24"/><text x="473" y="847">(3, 1, 3)</text></g>
<g class="n" id="s-0-7-3"><ellipse cx="604" cy="841" rx="53" ry="24"/><text x="604" y="847">(0, 7, 3)</text></g>
<g class="n" id="s-10-0-0"><ellipse cx="741" cy="841" rx="59" ry="24"/><text x="741" y="847">(10, 0, 0)</text></g>
<g class="n" id="s-7-3-0"><ellipse cx="877" cy="841" rx="53" ry="24"/><text x="877" y="847">(7, 3, 0)</text></g>
<g class="n" id="s-4-6-0"><ellipse cx="1008" cy="841" rx="53" ry="24"/><text x="1008" y="847">(4, 6, 0)</text></g>
<g class="n" id="s-1-6-0"><ellipse cx="1137" cy="841" rx="53" ry="24"/><text x="1137" y="847">(1, 6, 0)</text></g>
<g class="n" id="s-10-8-3"><ellipse cx="1268" cy="841" rx="59" ry="24"/><text x="1268" y="847">(10, 8, 3)</text></g>
<g class="n" id="s-10-5-3"><ellipse cx="1410" cy="841" rx="59" ry="24"/><text x="1410" y="847">(10, 5, 3)</text></g>
<g class="n" id="s-10-2-3"><ellipse cx="1552" cy="841" rx="59" ry="24"/><text x="1552" y="847">(10, 2, 3)</text></g>
<g class="n" id="s-9-8-1"><ellipse cx="1688" cy="841" rx="53" ry="24"/><text x="1688" y="847">(9, 8, 1)</text></g>
<g class="n" id="s-6-8-1"><ellipse cx="1818" cy="841" rx="53" ry="24"/><text x="1818" y="847">(6, 8, 1)</text></g>
<g class="n" id="s-3-0-1"><ellipse cx="2054" cy="841" rx="53" ry="24"/><text x="2054" y="847">(3, 0, 1)</text></g>
<g class="n" id="s-12-0-1"><ellipse cx="2191" cy="841" rx="59" ry="24"/><text x="2191" y="847">(12, 0, 1)</text></g>
<g class="n" id="s-12-3-1"><ellipse cx="2333" cy="841" rx="59" ry="24"/><text x="2333" y="847">(12, 3, 1)</text></g>
<g class="n" id="s-8-8-1"><ellipse cx="2643" cy="841" rx="53" ry="24"/><text x="2643" y="847">(8, 8, 1)</text></g>
<g class="n" id="s-8-1-0"><ellipse cx="2887" cy="841" rx="53" ry="24"/><text x="2887" y="847">(8, 1, 0)</text></g>
<g class="n" id="s-0-5-1"><ellipse cx="3067" cy="841" rx="53" ry="24"/><text x="3067" y="847">(0, 5, 1)</text></g>
<g class="n" id="s-1-2-3"><ellipse cx="3197" cy="841" rx="53" ry="24"/><text x="3197" y="847">(1, 2, 3)</text></g>
<g class="n" id="s-4-0-2"><ellipse cx="3470" cy="841" rx="53" ry="24"/><text x="3470" y="847">(4, 0, 2)</text></g>
<g class="n" id="s-7-0-2"><ellipse cx="3599" cy="841" rx="53" ry="24"/><text x="3599" y="847">(7, 0, 2)</text></g>
<g class="n" id="s-10-0-2"><ellipse cx="4003" cy="841" rx="59" ry="24"/><text x="4003" y="847">(10, 0, 2)</text></g>
<g class="n" id="s-3-8-1"><ellipse cx="4171" cy="841" rx="53" ry="24"/><text x="4171" y="847">(3, 8, 1)</text></g>
<g class="n" id="s-12-7-3"><ellipse cx="4341" cy="841" rx="59" ry="24"/><text x="4341" y="847">(12, 7, 3)</text></g>
<g class="n" id="s-9-7-3"><ellipse cx="4478" cy="841" rx="53" ry="24"/><text x="4478" y="847">(9, 7, 3)</text></g>
<g class="n" id="s-12-8-2"><ellipse cx="4616" cy="841" rx="59" ry="24"/><text x="4616" y="847">(12, 8, 2)</text></g>
<g class="n" id="s-12-5-2"><ellipse cx="4758" cy="841" rx="59" ry="24"/><text x="4758" y="847">(12, 5, 2)</text></g>
<g class="n" id="s-4-8-2"><ellipse cx="4909" cy="841" rx="53" ry="24"/><text x="4909" y="847">(4, 8, 2)</text></g>
<g class="n" id="s-11-3-3"><ellipse cx="5057" cy="841" rx="59" ry="24"/><text x="5057" y="847">(11, 3, 3)</text></g>
<g class="n" id="s-8-6-3"><ellipse cx="5188" cy="841" rx="53" ry="24"/><text x="5188" y="847">(8, 6, 3)</text></g>
<g class="n" id="s-5-6-3"><ellipse cx="5316" cy="841" rx="53" ry="24"/><text x="5316" y="847">(5, 6, 3)</text></g>
<g class="n" id="s-2-6-3"><ellipse cx="5447" cy="841" rx="53" ry="24"/><text x="5447" y="847">(2, 6, 3)</text></g>
<g class="n" id="s-9-2-0"><ellipse cx="5577" cy="841" rx="53" ry="24"/><text x="5577" y="847">(9, 2, 0)</text></g>
<g class="n" id="s-2-8-0"><ellipse cx="5707" cy="841" rx="53" ry="24"/><text x="5707" y="847">(2, 8, 0)</text></g>
<g class="n" id="s-10-0-3"><ellipse cx="5844" cy="841" rx="59" ry="24"/><text x="5844" y="847">(10, 0, 3)</text></g>
<g class="n" id="s-9-1-3"><ellipse cx="5968" cy="841" rx="53" ry="24"/><text x="5968" y="847">(9, 1, 3)</text></g>
<g class="n" id="s-5-5-0"><ellipse cx="6110" cy="841" rx="53" ry="24"/><text x="6110" y="847">(5, 5, 0)</text></g>
<g class="n" id="s-6-4-3"><ellipse cx="6240" cy="841" rx="53" ry="24"/><text x="6240" y="847">(6, 4, 3)</text></g>
<g class="n" id="s-6-7-3"><ellipse cx="6369" cy="841" rx="53" ry="24"/><text x="6369" y="847">(6, 7, 3)</text></g>
<g class="n" id="s-8-2-0"><ellipse cx="6496" cy="841" rx="53" ry="24"/><text x="6496" y="847">(8, 2, 0)</text></g>
<g class="n" id="s-11-2-0"><ellipse cx="6630" cy="841" rx="59" ry="24"/><text x="6630" y="847">(11, 2, 0)</text></g>
<g class="n" id="s-12-2-2"><ellipse cx="6772" cy="841" rx="59" ry="24"/><text x="6772" y="847">(12, 2, 2)</text></g>
<g class="n" id="s-0-3-2"><ellipse cx="6909" cy="841" rx="53" ry="24"/><text x="6909" y="847">(0, 3, 2)</text></g>
<g class="n" id="s-0-6-2"><ellipse cx="7039" cy="841" rx="53" ry="24"/><text x="7039" y="847">(0, 6, 2)</text></g>
<g class="n" id="s-0-8-2"><ellipse cx="7165" cy="841" rx="53" ry="24"/><text x="7165" y="847">(0, 8, 2)</text></g>
<g class="n" id="s-3-8-2"><ellipse cx="7294" cy="841" rx="53" ry="24"/><text x="7294" y="847">(3, 8, 2)</text></g>
<g class="n" id="s-6-8-2"><ellipse cx="7424" cy="841" rx="53" ry="24"/><text x="7424" y="847">(6, 8, 2)</text></g>
<g class="n" id="s-6-4-0"><ellipse cx="214" cy="957" rx="53" ry="24"/><text x="214" y="963">(6, 4, 0)</text></g>
<g class="n" id="s-3-7-0"><ellipse cx="345" cy="957" rx="53" ry="24"/><text x="345" y="963">(3, 7, 0)</text></g>
<g class="n" id="s-6-1-0"><ellipse cx="473" cy="957" rx="53" ry="24"/><text x="473" y="963">(6, 1, 0)</text></g>
<g class="n" id="s-7-3-3"><ellipse cx="805" cy="957" rx="53" ry="24"/><text x="805" y="963">(7, 3, 3)</text></g>
<g class="n" id="s-4-6-3"><ellipse cx="935" cy="957" rx="53" ry="24"/><text x="935" y="963">(4, 6, 3)</text></g>
<g class="n" id="s-1-6-3"><ellipse cx="1064" cy="957" rx="53" ry="24"/><text x="1064" y="963">(1, 6, 3)</text></g>
<g class="n" id="s-0-6-1"><ellipse cx="1197" cy="957" rx="53" ry="24"/><text x="1197" y="963">(0, 6, 1)</text></g>
<g class="n" id="s-12-5-1"><ellipse cx="1410" cy="957" rx="59" ry="24"/><text x="1410" y="963">(12, 5, 1)</text></g>
<g class="n" id="s-12-2-1"><ellipse cx="1552" cy="957" rx="59" ry="24"/><text x="1552" y="963">(12, 2, 1)</text></g>
<g class="n" id="s-9-0-1"><ellipse cx="1688" cy="957" rx="53" ry="24"/><text x="1688" y="963">(9, 0, 1)</text></g>
<g class="n" id="s-6-0-1"><ellipse cx="1818" cy="957" rx="53" ry="24"/><text x="1818" y="963">(6, 0, 1)</text></g>
<g class="n" id="s-4-8-1"><ellipse cx="1979" cy="957" rx="53" ry="24"/><text x="1979" y="963">(4, 8, 1)</text></g>
<g class="n" id="s-7-8-1"><ellipse cx="2123" cy="957" rx="53" ry="24"/><text x="2123" y="963">(7, 8, 1)</text></g>
<g class="n" id="s-10-3-3"><ellipse cx="2263" cy="957" rx="59" ry="24"/><text x="2263" y="963">(10, 3, 3)</text></g>
<g class="n" id="s-12-4-1"><ellipse cx="2529" cy="957" rx="59" ry="24"/><text x="2529" y="963">(12, 4, 1)</text></g>
<g class="n" id="s-8-1-3"><ellipse cx="2806" cy="957" rx="53" ry="24"/><text x="2806" y="963">(8, 1, 3)</text></g>
<g class="n" id="s-5-1-3"><ellipse cx="2936" cy="957" rx="53" ry="24"/><text x="2936" y="963">(5, 1, 3)</text></g>
<g class="n" id="s-5-0-1"><ellipse cx="3067" cy="957" rx="53" ry="24"/><text x="3067" y="963">(5, 0, 1)</text></g>
<g class="n" id="s-1-2-0"><ellipse cx="3197" cy="957" rx="53" ry="24"/><text x="3197" y="963">(1, 2, 0)</text></g>
<g class="n" id="s-0-4-2"><ellipse cx="3470" cy="957" rx="53" ry="24"/><text x="3470" y="963">(0, 4, 2)</text></g>
<g class="n" id="s-7-8-2"><ellipse cx="3599" cy="957" rx="53" ry="24"/><text x="3599" y="963">(7, 8, 2)</text></g>
<g class="n" id="s-0-7-2"><ellipse cx="3737" cy="957" rx="53" ry="24"/><text x="3737" y="963">(0, 7, 2)</text></g>
<g class="n" id="s-10-8-2"><ellipse cx="4003" cy="957" rx="59" ry="24"/><text x="4003" y="963">(10, 8, 2)</text></g>
<g class="n" id="s-2-8-2"><ellipse cx="4141" cy="957" rx="53" ry="24"/><text x="4141" y="963">(2, 8, 2)</text></g>
<g class="n" id="s-11-0-1"><ellipse cx="4319" cy="957" rx="59" ry="24"/><text x="4319" y="963">(11, 0, 1)</text></g>
<g class="n" id="s-9-8-2"><ellipse cx="4478" cy="957" rx="53" ry="24"/><text x="4478" y="963">(9, 8, 2)</text></g>
<g class="n" id="s-0-5-2"><ellipse cx="4673" cy="957" rx="53" ry="24"/><text x="4673" y="963">(0, 5, 2)</text></g>
<g class="n" id="s-4-7-3"><ellipse cx="4909" cy="957" rx="53" ry="24"/><text x="4909" y="963">(4, 7, 3)</text></g>
<g class="n" id="s-12-3-2"><ellipse cx="5044" cy="957" rx="59" ry="24"/><text x="5044" y="963">(12, 3, 2)</text></g>
<g class="n" id="s-11-6-0"><ellipse cx="5176" cy="957" rx="59" ry="24"/><text x="5176" y="963">(11, 6, 0)</text></g>
<g class="n" id="s-5-8-1"><ellipse cx="5316" cy="957" rx="53" ry="24"/><text x="5316" y="963">(5, 8, 1)</text></g>
<g class="n" id="s-2-8-1"><ellipse cx="5447" cy="957" rx="53" ry="24"/><text x="5447" y="963">(2, 8, 1)</text></g>
<g class="n" id="s-9-0-2"><ellipse cx="5577" cy="957" rx="53" ry="24"/><text x="5577" y="963">(9, 0, 2)</text></g>
<g class="n" id="s-2-5-3"><ellipse cx="5707" cy="957" rx="53" ry="24"/><text x="5707" y="963">(2, 5, 3)</text></g>
<g class="n" id="s-10-3-0"><ellipse cx="5844" cy="957" rx="59" ry="24"/><text x="5844" y="963">(10, 3, 0)</text></g>
<g class="n" id="s-9-1-0"><ellipse cx="5981" cy="957" rx="53" ry="24"/><text x="5981" y="963">(9, 1, 0)</text></g>
<g class="n" id="s-5-2-3"><ellipse cx="6110" cy="957" rx="53" ry="24"/><text x="6110" y="963">(5, 2, 3)</text></g>
<g class="n" id="s-6-7-0"><ellipse cx="6240" cy="957" rx="53" ry="24"/><text x="6240" y="963">(6, 7, 0)</text></g>
<g class="n" id="s-8-0-2"><ellipse cx="6496" cy="957" rx="53" ry="24"/><text x="6496" y="963">(8, 0, 2)</text></g>
<g class="n" id="s-11-0-2"><ellipse cx="6630" cy="957" rx="59" ry="24"/><text x="6630" y="963">(11, 0, 2)</text></g>
<g class="n" id="s-0-2-2"><ellipse cx="6772" cy="957" rx="53" ry="24"/><text x="6772" y="963">(0, 2, 2)</text></g>
<g class="n" id="s-12-6-2"><ellipse cx="7039" cy="957" rx="59" ry="24"/><text x="7039" y="963">(12, 6, 2)</text></g>
<g class="n" id="s-3-7-3"><ellipse cx="7294" cy="957" rx="53" ry="24"/><text x="7294" y="963">(3, 7, 3)</text></g>
<g class="n" id="s-6-1-3"><ellipse cx="214" cy="1073" rx="53" ry="24"/><text x="214" y="1079">(6, 1, 3)</text></g>
<g class="n" id="s-7-6-0"><ellipse cx="805" cy="1073" rx="53" ry="24"/><text x="805" y="1079">(7, 6, 0)</text></g>
<g class="n" id="s-1-8-1"><ellipse cx="1064" cy="1073" rx="53" ry="24"/><text x="1064" y="1079">(1, 8, 1)</text></g>
<g class="n" id="s-12-6-1"><ellipse cx="1198" cy="1073" rx="59" ry="24"/><text x="1198" y="1079">(12, 6, 1)</text></g>
<g class="n" id="s-0-2-1"><ellipse cx="1552" cy="1073" rx="53" ry="24"/><text x="1552" y="1079">(0, 2, 1)</text></g>
<g class="n" id="s-4-0-1"><ellipse cx="1864" cy="1073" rx="53" ry="24"/><text x="1864" y="1079">(4, 0, 1)</text></g>
<g class="n" id="s-7-0-1"><ellipse cx="1993" cy="1073" rx="53" ry="24"/><text x="1993" y="1079">(7, 0, 1)</text></g>
<g class="n" id="s-7-6-3"><ellipse cx="2123" cy="1073" rx="53" ry="24"/><text x="2123" y="1079">(7, 6, 3)</text></g>
<g class="n" id="s-10-6-0"><ellipse cx="2260" cy="1073" rx="59" ry="24"/><text x="2260" y="1079">(10, 6, 0)</text></g>
<g class="n" id="s-0-4-1"><ellipse cx="2397" cy="1073" rx="53" ry="24"/><text x="2397" y="1079">(0, 4, 1)</text></g>
<g class="n" id="s-10-4-3"><ellipse cx="2529" cy="1073" rx="59" ry="24"/><text x="2529" y="1079">(10, 4, 3)</text></g>
<g class="n" id="s-11-1-0"><ellipse cx="2670" cy="1073" rx="59" ry="24"/><text x="2670" y="1079">(11, 1, 0)</text></g>
<g class="n" id="s-8-4-0"><ellipse cx="2806" cy="1073" rx="53" ry="24"/><text x="2806" y="1079">(8, 4, 0)</text></g>
<g class="n" id="s-5-1-0"><ellipse cx="2936" cy="1073" rx="53" ry="24"/><text x="2936" y="1079">(5, 1, 0)</text></g>
<g class="n" id="s-5-4-0"><ellipse cx="3067" cy="1073" rx="53" ry="24"/><text x="3067" y="1079">(5, 4, 0)</text></g>
<g class="n" id="s-1-0-2"><ellipse cx="3197" cy="1073" rx="53" ry="24"/><text x="3197" y="1079">(1, 0, 2)</text></g>
<g class="n" id="s-12-4-2"><ellipse cx="3334" cy="1073" rx="59" ry="24"/><text x="3334" y="1079">(12, 4, 2)</text></g>
<g class="n" id="s-2-4-0"><ellipse cx="3470" cy="1073" rx="53" ry="24"/><text x="3470" y="1079">(2, 4, 0)</text></g>
<g class="n" id="s-7-7-3"><ellipse cx="3599" cy="1073" rx="53" ry="24"/><text x="3599" y="1079">(7, 7, 3)</text></g>
<g class="n" id="s-12-7-2"><ellipse cx="3737" cy="1073" rx="59" ry="24"/><text x="3737" y="1079">(12, 7, 2)</text></g>
<g class="n" id="s-2-7-0"><ellipse cx="3874" cy="1073" rx="53" ry="24"/><text x="3874" y="1079">(2, 7, 0)</text></g>
<g class="n" id="s-10-7-3"><ellipse cx="4003" cy="1073" rx="59" ry="24"/><text x="4003" y="1079">(10, 7, 3)</text></g>
<g class="n" id="s-2-0-2"><ellipse cx="4141" cy="1073" rx="53" ry="24"/><text x="4141" y="1079">(2, 0, 2)</text></g>
<g class="n" id="s-2-7-3"><ellipse cx="4270" cy="1073" rx="53" ry="24"/><text x="4270" y="1079">(2, 7, 3)</text></g>
<g class="n" id="s-11-8-1"><ellipse cx="4407" cy="1073" rx="59" ry="24"/><text x="4407" y="1079">(11, 8, 1)</text></g>
<g class="n" id="s-5-0-2"><ellipse cx="4545" cy="1073" rx="53" ry="24"/><text x="4545" y="1079">(5, 0, 2)</text></g>
<g class="n" id="s-2-5-0"><ellipse cx="4673" cy="1073" rx="53" ry="24"/><text x="4673" y="1079">(2, 5, 0)</text></g>
<g class="n" id="s-4-7-0"><ellipse cx="4909" cy="1073" rx="53" ry="24"/><text x="4909" y="1079">(4, 7, 0)</text></g>
<g class="n" id="s-7-7-0"><ellipse cx="5041" cy="1073" rx="53" ry="24"/><text x="5041" y="1079">(7, 7, 0)</text></g>
<g class="n" id="s-11-6-3"><ellipse cx="5176" cy="1073" rx="59" ry="24"/><text x="5176" y="1079">(11, 6, 3)</text></g>
<g class="n" id="s-12-1-1"><ellipse cx="5314" cy="1073" rx="59" ry="24"/><text x="5314" y="1079">(12, 1, 1)</text></g>
<g class="n" id="s-2-0-1"><ellipse cx="5451" cy="1073" rx="53" ry="24"/><text x="5451" y="1079">(2, 0, 1)</text></g>
<g class="n" id="s-10-0-1"><ellipse cx="5587" cy="1073" rx="59" ry="24"/><text x="5587" y="1079">(10, 0, 1)</text></g>
<g class="n" id="s-1-8-2"><ellipse cx="5724" cy="1073" rx="53" ry="24"/><text x="5724" y="1079">(1, 8, 2)</text></g>
<g class="n" id="s-5-2-0"><ellipse cx="6110" cy="1073" rx="53" ry="24"/><text x="6110" y="1079">(5, 2, 0)</text></g>
<g class="n" id="s-8-8-2"><ellipse cx="6496" cy="1073" rx="53" ry="24"/><text x="6496" y="1079">(8, 8, 2)</text></g>
<g class="n" id="s-11-8-2"><ellipse cx="6630" cy="1073" rx="59" ry="24"/><text x="6630" y="1079">(11, 8, 2)</text></g>
<g class="n" id="s-2-2-0"><ellipse cx="6772" cy="1073" rx="53" ry="24"/><text x="6772" y="1079">(2, 2, 0)</text></g>
<g class="n" id="s-1-0-1"><ellipse cx="1064" cy="1189" rx="53" ry="24"/><text x="1064" y="1195">(1, 0, 1)</text></g>
<g class="n" id="s-10-8-1"><ellipse cx="1200" cy="1189" rx="59" ry="24"/><text x="1200" y="1195">(10, 8, 1)</text></g>
<g class="n" id="s-10-6-3"><ellipse cx="1336" cy="1189" rx="59" ry="24"/><text x="1336" y="1195">(10, 6, 3)</text></g>
<g class="n" id="s-4-1-0"><ellipse cx="1864" cy="1189" rx="53" ry="24"/><text x="1864" y="1195">(4, 1, 0)</text></g>
<g class="n" id="s-0-7-1"><ellipse cx="1993" cy="1189" rx="53" ry="24"/><text x="1993" y="1195">(0, 7, 1)</text></g>
<g class="n" id="s-7-1-0"><ellipse cx="2123" cy="1189" rx="53" ry="24"/><text x="2123" y="1195">(7, 1, 0)</text></g>
<g class="n" id="s-1-4-0"><ellipse cx="2254" cy="1189" rx="53" ry="24"/><text x="2254" y="1195">(1, 4, 0)</text></g>
<g class="n" id="s-10-4-0"><ellipse cx="2391" cy="1189" rx="59" ry="24"/><text x="2391" y="1195">(10, 4, 0)</text></g>
<g class="n" id="s-10-7-0"><ellipse cx="2529" cy="1189" rx="59" ry="24"/><text x="2529" y="1195">(10, 7, 0)</text></g>
<g class="n" id="s-11-1-3"><ellipse cx="2670" cy="1189" rx="59" ry="24"/><text x="2670" y="1195">(11, 1, 3)</text></g>
<g class="n" id="s-8-4-3"><ellipse cx="2806" cy="1189" rx="53" ry="24"/><text x="2806" y="1195">(8, 4, 3)</text></g>
<g class="n" id="s-5-4-3"><ellipse cx="2936" cy="1189" rx="53" ry="24"/><text x="2936" y="1195">(5, 4, 3)</text></g>
<g class="n" id="s-2-1-3"><ellipse cx="3065" cy="1189" rx="53" ry="24"/><text x="3065" y="1195">(2, 1, 3)</text></g>
<g class="n" id="s-2-4-3"><ellipse cx="3195" cy="1189" rx="53" ry="24"/><text x="3195" y="1195">(2, 4, 3)</text></g>
<g class="n" id="s-0-1-2"><ellipse cx="3325" cy="1189" rx="53" ry="24"/><text x="3325" y="1195">(0, 1, 2)</text></g>
<g class="n" id="s-11-4-3"><ellipse cx="3461" cy="1189" rx="59" ry="24"/><text x="3461" y="1195">(11, 4, 3)</text></g>
<g class="n" id="s-11-7-3"><ellipse cx="3737" cy="1189" rx="59" ry="24"/><text x="3737" y="1195">(11, 7, 3)</text></g>
<g class="n" id="s-12-7-1"><ellipse cx="4003" cy="1189" rx="59" ry="24"/><text x="4003" y="1195">(12, 7, 1)</text></g>
<g class="n" id="s-5-7-0"><ellipse cx="4270" cy="1189" rx="53" ry="24"/><text x="4270" y="1195">(5, 7, 0)</text></g>
<g class="n" id="s-5-8-2"><ellipse cx="4534" cy="1189" rx="53" ry="24"/><text x="4534" y="1195">(5, 8, 2)</text></g>
<g class="n" id="s-2-2-3"><ellipse cx="4664" cy="1189" rx="53" ry="24"/><text x="4664" y="1195">(2, 2, 3)</text></g>
<g class="n" id="s-1-7-3"><ellipse cx="4795" cy="1189" rx="53" ry="24"/><text x="4795" y="1195">(1, 7, 3)</text></g>
<g class="n" id="s-4-4-3"><ellipse cx="4925" cy="1189" rx="53" ry="24"/><text x="4925" y="1195">(4, 4, 3)</text></g>
<g class="n" id="s-7-4-3"><ellipse cx="5054" cy="1189" rx="53" ry="24"/><text x="5054" y="1195">(7, 4, 3)</text></g>
<g class="n" id="s-0-1-1"><ellipse cx="5186" cy="1189" rx="53" ry="24"/><text x="5186" y="1195">(0, 1, 1)</text></g>
<g class="n" id="s-10-1-3"><ellipse cx="5314" cy="1189" rx="59" ry="24"/><text x="5314" y="1195">(10, 1, 3)</text></g>
<g class="n" id="s-2-1-0"><ellipse cx="5451" cy="1189" rx="53" ry="24"/><text x="5451" y="1195">(2, 1, 0)</text></g>
<g class="n" id="s-10-1-0"><ellipse cx="5587" cy="1189" rx="59" ry="24"/><text x="5587" y="1195">(10, 1, 0)</text></g>
<g class="n" id="s-8-7-3"><ellipse cx="6496" cy="1189" rx="53" ry="24"/><text x="6496" y="1195">(8, 7, 3)</text></g>
<g class="n" id="s-1-1-0"><ellipse cx="1064" cy="1305" rx="53" ry="24"/><text x="1064" y="1311">(1, 1, 0)</text></g>
<g class="n" id="s-4-1-3"><ellipse cx="1734" cy="1305" rx="53" ry="24"/><text x="1734" y="1311">(4, 1, 3)</text></g>
<g class="n" id="s-1-1-3"><ellipse cx="1864" cy="1305" rx="53" ry="24"/><text x="1864" y="1311">(1, 1, 3)</text></g>
<g class="n" id="s-1-7-0"><ellipse cx="1993" cy="1305" rx="53" ry="24"/><text x="1993" y="1311">(1, 7, 0)</text></g>
<g class="n" id="s-7-1-3"><ellipse cx="2123" cy="1305" rx="53" ry="24"/><text x="2123" y="1311">(7, 1, 3)</text></g>
<g class="n" id="s-1-4-3"><ellipse cx="2254" cy="1305" rx="53" ry="24"/><text x="2254" y="1311">(1, 4, 3)</text></g>
<g class="n" id="s-12-1-2"><ellipse cx="2527" cy="1305" rx="59" ry="24"/><text x="2527" y="1311">(12, 1, 2)</text></g>
<g class="n" id="s-11-4-0"><ellipse cx="2670" cy="1305" rx="59" ry="24"/><text x="2670" y="1311">(11, 4, 0)</text></g>
<g class="n" id="s-8-7-0"><ellipse cx="2806" cy="1305" rx="53" ry="24"/><text x="2806" y="1311">(8, 7, 0)</text></g>
<g class="n" id="s-11-7-0"><ellipse cx="3461" cy="1305" rx="59" ry="24"/><text x="3461" y="1311">(11, 7, 0)</text></g>
<g class="n" id="s-5-7-3"><ellipse cx="4270" cy="1305" rx="53" ry="24"/><text x="4270" y="1311">(5, 7, 3)</text></g>
<g class="n" id="s-4-4-0"><ellipse cx="4859" cy="1305" rx="53" ry="24"/><text x="4859" y="1311">(4, 4, 0)</text></g>
<g class="n" id="s-7-4-0"><ellipse cx="4988" cy="1305" rx="53" ry="24"/><text x="4988" y="1311">(7, 4, 0)</text></g>
</g>
</svg>
